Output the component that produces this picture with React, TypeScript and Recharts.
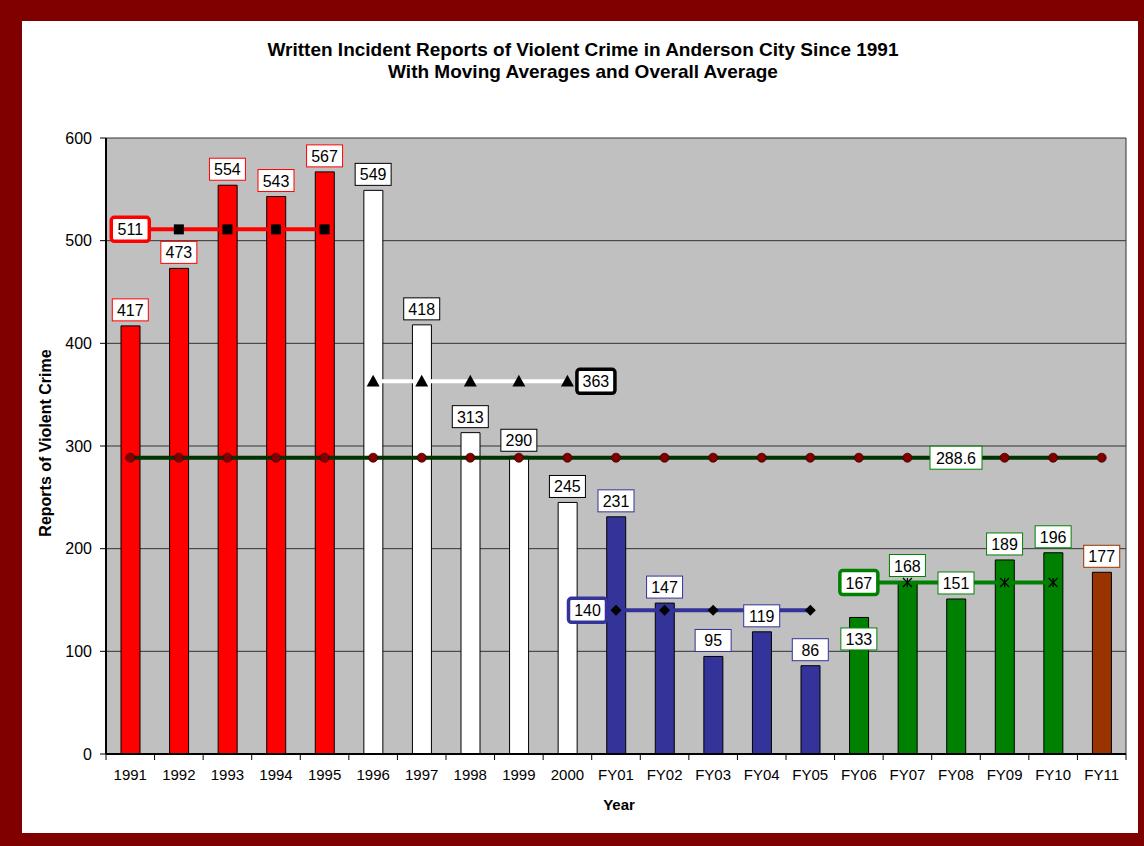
import React from 'react';
import { ComposedChart, Bar, Line, XAxis, YAxis, CartesianGrid, Cell, LabelList } from 'recharts';

const categories = ['1991', '1992', '1993', '1994', '1995', '1996', '1997', '1998', '1999', '2000', 'FY01', 'FY02', 'FY03', 'FY04', 'FY05', 'FY06', 'FY07', 'FY08', 'FY09', 'FY10', 'FY11'];
const reports = [417, 473, 554, 543, 567, 549, 418, 313, 290, 245, 231, 147, 95, 119, 86, 133, 168, 151, 189, 196, 177];
const movingAverages = [511, 363, 140, 167];
const overallAverage = 288.6;
const yTicks = [0, 100, 200, 300, 400, 500, 600];

const FONT = '"Liberation Sans", Arial, sans-serif';
const W = 1144;
const H = 846;
const PLOT_LEFT = 106;
const PLOT_RIGHT = 1126;
const PLOT_TOP = 138;
const PLOT_BOTTOM = 754;
const BAND = (PLOT_RIGHT - PLOT_LEFT) / categories.length;

const groupFill = ['#FF0000', '#FFFFFF', '#333399', '#008000', '#993300'];
const groupBorder = ['#FF0000', '#000000', '#333399', '#008000', '#993300'];
const maLine = ['#FF0000', '#FFFFFF', '#333399', '#008000'];
const maBorder = ['#FF0000', '#000000', '#333399', '#008000'];

const data = categories.map((cat, i) => {
  const g = Math.floor(i / 5);
  const row: any = { cat, value: reports[i], overall: overallAverage };
  movingAverages.forEach((v, k) => {
    row['ma' + k] = k === g ? v : null;
  });
  return row;
});

const groupOf = (i: number) => Math.min(Math.floor(i / 5), 4);

const BarValueLabel = (props: any) => {
  const { x, y, value, index } = props;
  if (value == null || x == null || y == null) return null;
  const g = groupOf(index);
  const w = 36;
  const h = 22;
  const cy = index === 15 ? y + 21.5 : y - 16;
  return (
    <g>
      <rect x={x - w / 2} y={cy - h / 2} width={w} height={h} fill="#FFFFFF" stroke={groupBorder[g]} strokeWidth={1} />
      <text x={x} y={cy + 6} textAnchor="middle" fontFamily={FONT} fontSize={16} fill="#000">{value}</text>
    </g>
  );
};

const makeMaLabel = (k: number, showIndex: number, align: 'center' | 'left' | 'right') => (props: any) => {
  const { x, y, value, index } = props;
  if (index !== showIndex || value == null || x == null || y == null) return null;
  const w = 41;
  const h = 27;
  let cx = x;
  if (align === 'right') cx = x + 8 + w / 2;
  if (align === 'left') cx = x - 8 - w / 2;
  return (
    <g>
      <rect x={cx - w / 2 + 1.5} y={y - h / 2 + 1.5} width={w - 3} height={h - 3} rx={3} ry={3} fill="#FFFFFF" stroke={maBorder[k]} strokeWidth={3.5} />
      <text x={cx} y={y + 6} textAnchor="middle" fontFamily={FONT} fontSize={16} fill="#000">{value}</text>
    </g>
  );
};

const OverallLabel = (props: any) => {
  const { x, y, value, index } = props;
  if (index !== 17 || x == null || y == null) return null;
  const w = 52;
  const h = 23;
  return (
    <g>
      <rect x={x - w / 2} y={y - h / 2} width={w} height={h} fill="#FFFFFF" stroke="#008000" strokeWidth={1} />
      <text x={x} y={y + 6} textAnchor="middle" fontFamily={FONT} fontSize={16} fill="#000">{value}</text>
    </g>
  );
};

const SquareDot = (p: any) => {
  if (p.cy == null || p.value == null) return <g key={p.key} />;
  return <rect key={p.key} x={p.cx - 5} y={p.cy - 5} width={10} height={10} fill="#000" />;
};
const TriangleDot = (p: any) => {
  if (p.cy == null || p.value == null) return <g key={p.key} />;
  const s = 6.5;
  return <polygon key={p.key} points={`${p.cx},${p.cy - s} ${p.cx + s},${p.cy + s * 0.8} ${p.cx - s},${p.cy + s * 0.8}`} fill="#000" />;
};
const DiamondDot = (p: any) => {
  if (p.cy == null || p.value == null) return <g key={p.key} />;
  const s = 5.5;
  return <polygon key={p.key} points={`${p.cx},${p.cy - s} ${p.cx + s},${p.cy} ${p.cx},${p.cy + s} ${p.cx - s},${p.cy}`} fill="#000" />;
};
const StarDot = (p: any) => {
  if (p.cy == null || p.value == null) return <g key={p.key} />;
  const s = 4.5;
  return (
    <g key={p.key} stroke="#000" strokeWidth={1.2}>
      <line x1={p.cx} y1={p.cy - s} x2={p.cx} y2={p.cy + s} />
      <line x1={p.cx - s} y1={p.cy - s} x2={p.cx + s} y2={p.cy + s} />
      <line x1={p.cx - s} y1={p.cy + s} x2={p.cx + s} y2={p.cy - s} />
    </g>
  );
};
const CircleDot = (p: any) => {
  if (p.cy == null) return <g key={p.key} />;
  return <circle key={p.key} cx={p.cx} cy={p.cy} r={4.5} fill="#800000" stroke="#400000" strokeWidth={0.8} />;
};

const XTick = (props: any) => {
  const { x, payload, index } = props;
  const isLast = index === categories.length - 1;
  return (
    <g>
      <line x1={x - BAND / 2} x2={x - BAND / 2} y1={PLOT_BOTTOM} y2={PLOT_BOTTOM + 6} stroke="#000" strokeWidth={1} />
      {isLast && <line x1={x + BAND / 2} x2={x + BAND / 2} y1={PLOT_BOTTOM} y2={PLOT_BOTTOM + 6} stroke="#000" strokeWidth={1} />}
      <text x={x} y={PLOT_BOTTOM + 26} textAnchor="middle" fontFamily={FONT} fontSize={15} fill="#000">{payload.value}</text>
    </g>
  );
};

export default function App() {
  return (
    <div style={{ position: 'absolute', left: 0, top: 0, width: W, height: H, background: '#800000', overflow: 'hidden' }}>
      <div style={{ position: 'absolute', left: 22, top: 21, width: 1116, height: 812, background: '#FFFFFF' }} />
      <div style={{ position: 'absolute', left: 0, top: 39, width: 1166, textAlign: 'center', fontFamily: FONT, fontWeight: 'bold', fontSize: 19, lineHeight: '22px', color: '#000' }}>
        Written Incident Reports of Violent Crime in Anderson City Since 1991<br />With Moving Averages and Overall Average
      </div>
      <div style={{ position: 'absolute', left: 0, top: 0 }}>
        <ComposedChart
          width={W}
          height={H}
          data={data}
          margin={{ top: PLOT_TOP, right: W - PLOT_RIGHT, bottom: H - PLOT_BOTTOM - 40, left: 0 }}
          barSize={19}
        >
          <CartesianGrid vertical={true} verticalPoints={[PLOT_RIGHT]} fill="#C0C0C0" stroke="#333333" strokeWidth={1} />
          <XAxis dataKey="cat" height={40} interval={0} tickLine={false} axisLine={{ stroke: '#000', strokeWidth: 2 }} tick={<XTick />} />
          <YAxis
            width={PLOT_LEFT}
            domain={[0, 600]}
            ticks={yTicks}
            interval={0}
            tickSize={6}
            tickMargin={8}
            axisLine={{ stroke: '#000', strokeWidth: 2 }}
            tickLine={{ stroke: '#000' }}
            tick={{ fill: '#000', fontSize: 16, fontFamily: FONT }}
          />
          <Bar dataKey="value" isAnimationActive={false} stroke="#000" strokeWidth={1}>
            {data.map((d, i) => (
              <Cell key={d.cat} fill={groupFill[groupOf(i)]} />
            ))}
          </Bar>
          <Line dataKey="overall" stroke="#003300" strokeWidth={4} dot={<CircleDot />} activeDot={false} isAnimationActive={false}>
            <LabelList dataKey="overall" content={<OverallLabel />} />
          </Line>
          <Line dataKey="ma0" stroke={maLine[0]} strokeWidth={4} dot={<SquareDot />} activeDot={false} isAnimationActive={false} connectNulls={false}>
            <LabelList dataKey="ma0" content={makeMaLabel(0, 0, 'center')} />
          </Line>
          <Line dataKey="ma1" stroke={maLine[1]} strokeWidth={4} dot={<TriangleDot />} activeDot={false} isAnimationActive={false} connectNulls={false}>
            <LabelList dataKey="ma1" content={makeMaLabel(1, 9, 'right')} />
          </Line>
          <Line dataKey="ma2" stroke={maLine[2]} strokeWidth={4} dot={<DiamondDot />} activeDot={false} isAnimationActive={false} connectNulls={false}>
            <LabelList dataKey="ma2" content={makeMaLabel(2, 10, 'left')} />
          </Line>
          <Line dataKey="ma3" stroke={maLine[3]} strokeWidth={4} dot={<StarDot />} activeDot={false} isAnimationActive={false} connectNulls={false}>
            <LabelList dataKey="ma3" content={makeMaLabel(3, 15, 'center')} />
          </Line>
          <Line dataKey="value" stroke="none" strokeWidth={0} dot={false} activeDot={false} isAnimationActive={false} legendType="none">
            <LabelList dataKey="value" content={<BarValueLabel />} />
          </Line>
        </ComposedChart>
      </div>
      <div style={{ position: 'absolute', left: 46 - 150, top: 443 - 10, width: 300, height: 20, transform: 'rotate(-90deg)', textAlign: 'center', fontFamily: FONT, fontWeight: 'bold', fontSize: 16, lineHeight: '20px', color: '#000' }}>
        Reports of Violent Crime
      </div>
      <div style={{ position: 'absolute', left: 569, top: 795, width: 100, textAlign: 'center', fontFamily: FONT, fontWeight: 'bold', fontSize: 15, lineHeight: '20px', color: '#000' }}>
        Year
      </div>
    </div>
  );
}
